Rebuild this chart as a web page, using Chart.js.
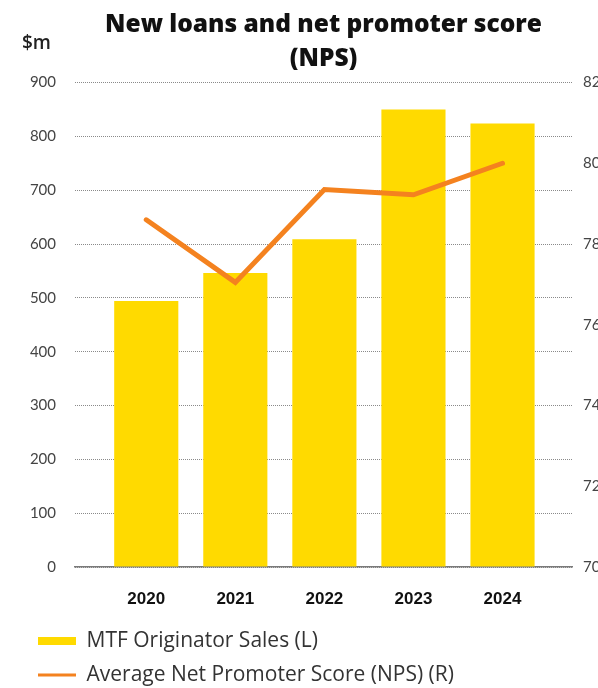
<!DOCTYPE html>
<html>
<head>
<meta charset="utf-8">
<script src="https://cdn.jsdelivr.net/npm/chart.js@4.4.1/dist/chart.umd.min.js"></script>
<style>
  html, body { margin: 0; padding: 0; background: #ffffff; overflow: hidden; }
  #wrap { width: 598px; height: 688px; position: relative; }
</style>
</head>
<body>
<div id="wrap"><canvas id="c" width="598" height="688"></canvas></div>
<script>
const years = ['2020', '2021', '2022', '2023', '2024'];
const originatorSales = [494, 546, 609, 850, 824];
const npsScores = [78.6, 77.05, 79.35, 79.22, 80.0];
const leftTicks = [0, 100, 200, 300, 400, 500, 600, 700, 800, 900];
const rightTicks = [70, 72, 74, 76, 78, 80, 82];
const titleLines = ['New loans and net promoter score', '(NPS)'];
const leftUnit = '$m';
const seriesNames = ['MTF Originator Sales (L)', 'Average Net Promoter Score (NPS) (R)'];

const unitLabel = {
  id: 'unitLabel',
  afterDraw(chart) {
    const ctx = chart.ctx;
    ctx.save();
    ctx.font = '600 19px "Open Sans"';
    ctx.fillStyle = '#222';
    ctx.textBaseline = 'middle';
    ctx.textAlign = 'left';
    ctx.fillText(leftUnit, 22, 44);
    ctx.restore();
  }
};

new Chart(document.getElementById('c'), {
  data: {
    datasets: [
      {
        type: 'bar',
        label: seriesNames[0],
        data: years.map((y, i) => ({ x: i, y: originatorSales[i] })),
        backgroundColor: '#FFDA00',
        borderWidth: 0,
        yAxisID: 'y',
        barPercentage: 0.72,
        categoryPercentage: 1,
        order: 1
      },
      {
        type: 'line',
        label: seriesNames[1],
        data: years.map((y, i) => ({ x: i, y: npsScores[i] })),
        borderColor: '#F4821F',
        backgroundColor: '#F4821F',
        borderWidth: 5,
        borderCapStyle: 'round',
        borderJoinStyle: 'miter',
        pointRadius: 0,
        tension: 0,
        yAxisID: 'y1',
        order: 0
      }
    ]
  },
  options: {
    responsive: false,
    animation: false,
    layout: { padding: { left: 25, right: 0, top: 4, bottom: -7.5 } },
    scales: {
      x: {
        type: 'linear',
        offset: false,
        min: -0.8,
        max: 4.78,
        afterBuildTicks(scale) { scale.ticks = years.map((_, i) => ({ value: i })); },
        afterFit(scale) { scale.height = 50.5; },
        ticks: {
          callback: (v) => years[v],
          font: { family: 'Liberation Sans', weight: 'bold', size: 17 },
          color: '#111',
          padding: 22,
          maxRotation: 0
        },
        grid: { display: false, drawTicks: false },
        border: { display: true, color: '#7a7a7a', width: 1.5 }
      },
      y: {
        position: 'left',
        min: 0,
        max: 900,
        afterBuildTicks(scale) { scale.ticks = leftTicks.map(v => ({ value: v })); },
        afterFit(scale) { scale.width = 50; },
        ticks: {
          font: { family: 'Lato', size: 15 },
          color: '#444',
          padding: 19
        },
        grid: { color: '#8a8a8a', lineWidth: 1, drawTicks: false },
        border: { display: false, dash: [1, 1] }
      },
      y1: {
        position: 'right',
        min: 70,
        max: 82,
        afterBuildTicks(scale) { scale.ticks = rightTicks.map(v => ({ value: v })); },
        afterFit(scale) { scale.width = 26; },
        ticks: {
          font: { family: 'Lato', size: 15 },
          color: '#444',
          padding: 11
        },
        grid: { drawOnChartArea: false, drawTicks: false },
        border: { display: false }
      }
    },
    plugins: {
      title: {
        display: true,
        text: titleLines,
        fullSize: false,
        font: { family: 'Open Sans', weight: '800', size: 24.5, lineHeight: 1.4 },
        color: '#111',
        padding: { top: 4, bottom: 5.9 }
      },
      legend: {
        display: true,
        position: 'bottom',
        align: 'start',
        labels: {
          font: { family: 'Open Sans', size: 21 },
          color: '#333',
          padding: 13,
          boxWidth: 38,
          boxHeight: 8,
          usePointStyle: true,
          pointStyleWidth: 38,
          generateLabels(chart) {
            const items = Chart.defaults.plugins.legend.labels.generateLabels(chart);
            items.sort((a, b) => a.datasetIndex - b.datasetIndex);
            items[0].pointStyle = 'rect';
            items[0].lineWidth = 0;
            items[0].fillStyle = '#FFDA00';
            items[0].strokeStyle = 'rgba(0,0,0,0)';
            items[1].pointStyle = 'line';
            items[1].lineWidth = 3;
            items[1].strokeStyle = '#F4821F';
            return items;
          }
        }
      },
      tooltip: { enabled: false }
    }
  },
  plugins: [unitLabel]
});
</script>
</body>
</html>
